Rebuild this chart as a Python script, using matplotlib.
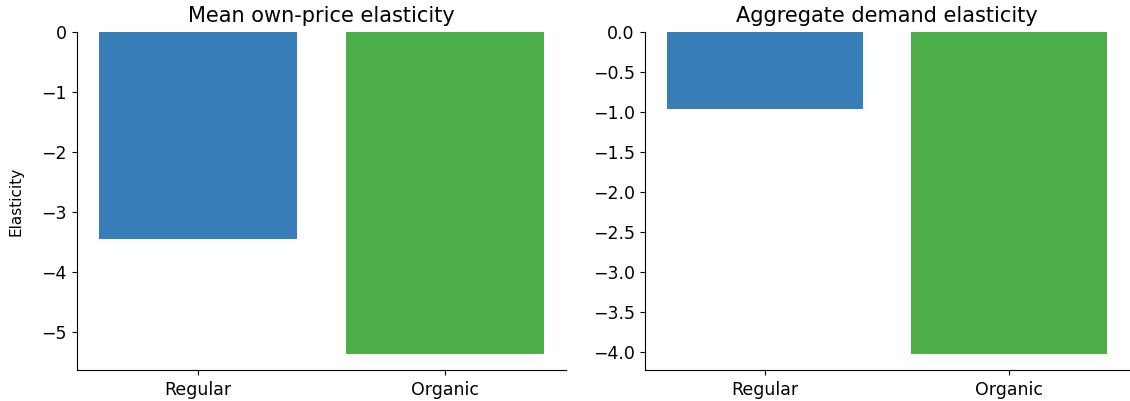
"""Own-price vs aggregate demand elasticity, regular vs organic."""

import matplotlib.pyplot as plt

categories = ["Regular", "Organic"]
mean_own_price = [-3.45, -5.37]
aggregate_demand = [-0.96, -4.02]
colors = ["#377eb8", "#4daf4a"]

fig = plt.figure(figsize=(11.3, 4.01), dpi=100)
ax1 = fig.add_axes([0.068, 0.077, 0.433, 0.843])
ax2 = fig.add_axes([0.571, 0.077, 0.428, 0.843])

for ax, values, title in [
    (ax1, mean_own_price, "Mean own-price elasticity"),
    (ax2, aggregate_demand, "Aggregate demand elasticity"),
]:
    ax.bar(categories, values, color=colors, width=0.8)
    ax.set_title(title, fontsize=15, pad=7)
    ax.tick_params(labelsize=12.5, pad=4)
    for side in ["top", "right"]:
        ax.spines[side].set_visible(False)

ax1.set_ylabel("Elasticity", fontsize=11)
ax1.yaxis.set_label_coords(-0.108, 0.5)

fig.savefig("out.png", dpi=100)
